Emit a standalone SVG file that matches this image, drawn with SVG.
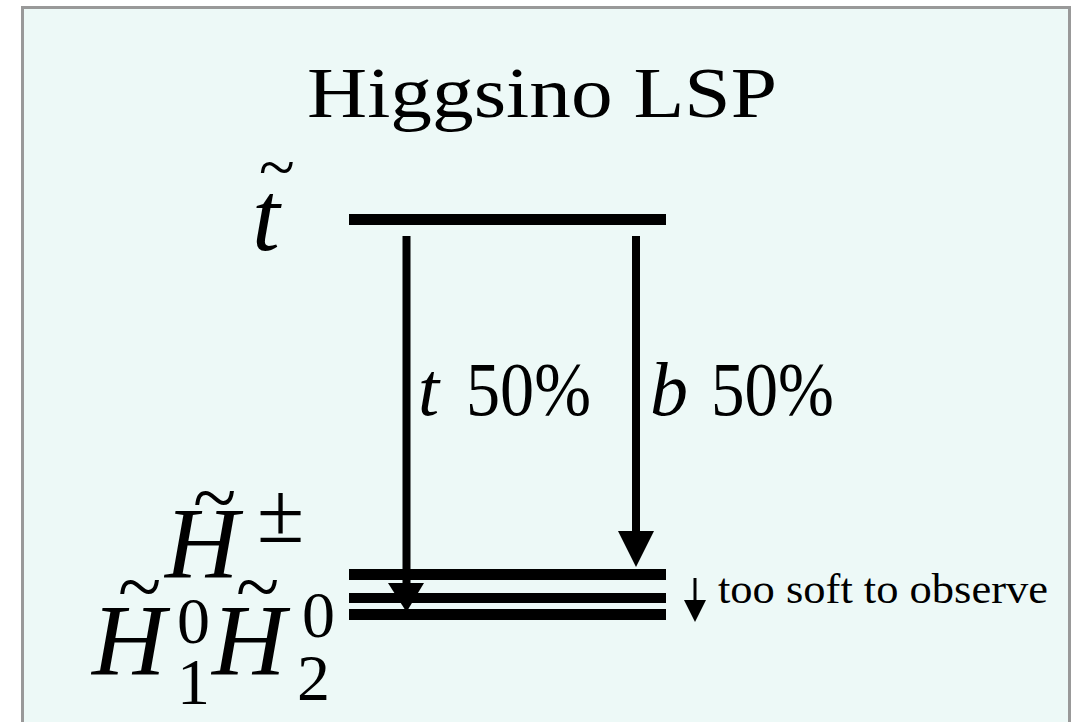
<svg xmlns="http://www.w3.org/2000/svg" width="1072" height="722" viewBox="0 0 1072 722">
<style>
.frame{fill:#edf9f7;stroke:#999;stroke-width:3}
.bar{fill:#000}
.shaft{stroke:#000;stroke-width:8}
.head{fill:#000}
.serif{font-family:"Liberation Serif","Times New Roman",serif;fill:#000}
.it{font-style:italic}
</style>
<rect class="frame" x="22.5" y="7.5" width="1047" height="800"/>
<g id="title"><text class="serif" x="307" y="117" font-size="72" textLength="470" lengthAdjust="spacingAndGlyphs">Higgsino LSP</text></g>
<g id="stop">
  <rect class="bar" x="349" y="214" width="317" height="11"/>
  <text class="serif"><tspan class="it" x="252" y="250" font-size="100">t</tspan><tspan x="259" y="189" font-size="66">~</tspan></text>
</g>
<g id="chargino">
  <rect class="bar" x="349" y="569" width="317" height="11"/>
  <text class="serif"><tspan class="it" x="165" y="578" font-size="102">H</tspan><tspan x="193" y="525" font-size="80">~</tspan><tspan x="257" y="542" font-size="86">±</tspan></text>
</g>
<g id="neutralinos">
  <rect class="bar" x="349" y="593" width="317" height="10"/>
  <rect class="bar" x="349" y="609" width="317" height="11"/>
  <text class="serif"><tspan class="it" x="92" y="675" font-size="102">H</tspan><tspan x="118" y="614" font-size="80">~</tspan><tspan x="177" y="643" font-size="66">0</tspan><tspan x="177" y="704" font-size="66">1</tspan><tspan class="it" x="212" y="675" font-size="102">H</tspan><tspan x="236" y="614" font-size="80">~</tspan><tspan x="302" y="637" font-size="66">0</tspan><tspan x="297" y="700" font-size="66">2</tspan></text>
</g>
<g id="connectors">
  <line class="shaft" x1="406.5" y1="236" x2="406.5" y2="590"/>
  <polygon class="head" points="388,583 424,583 406.5,612"/>
  <line class="shaft" x1="636" y1="236" x2="636" y2="540"/>
  <polygon class="head" points="618,531 654,531 636,567"/>
  <line stroke="#000" stroke-width="3" x1="695" y1="578" x2="695" y2="605"/>
  <polygon class="head" points="684,600 706,600 695,622"/>
</g>
<g id="labels">
  <text class="serif it" x="418" y="415" font-size="76">t</text>
  <text class="serif" x="466" y="415" font-size="76" textLength="125" lengthAdjust="spacingAndGlyphs">50%</text>
  <text class="serif it" x="650" y="415" font-size="76">b</text>
  <text class="serif" x="711" y="415" font-size="76" textLength="123" lengthAdjust="spacingAndGlyphs">50%</text>
  <text class="serif" x="718" y="603" font-size="42" textLength="330" lengthAdjust="spacingAndGlyphs">too soft to observe</text>
</g>
</svg>
